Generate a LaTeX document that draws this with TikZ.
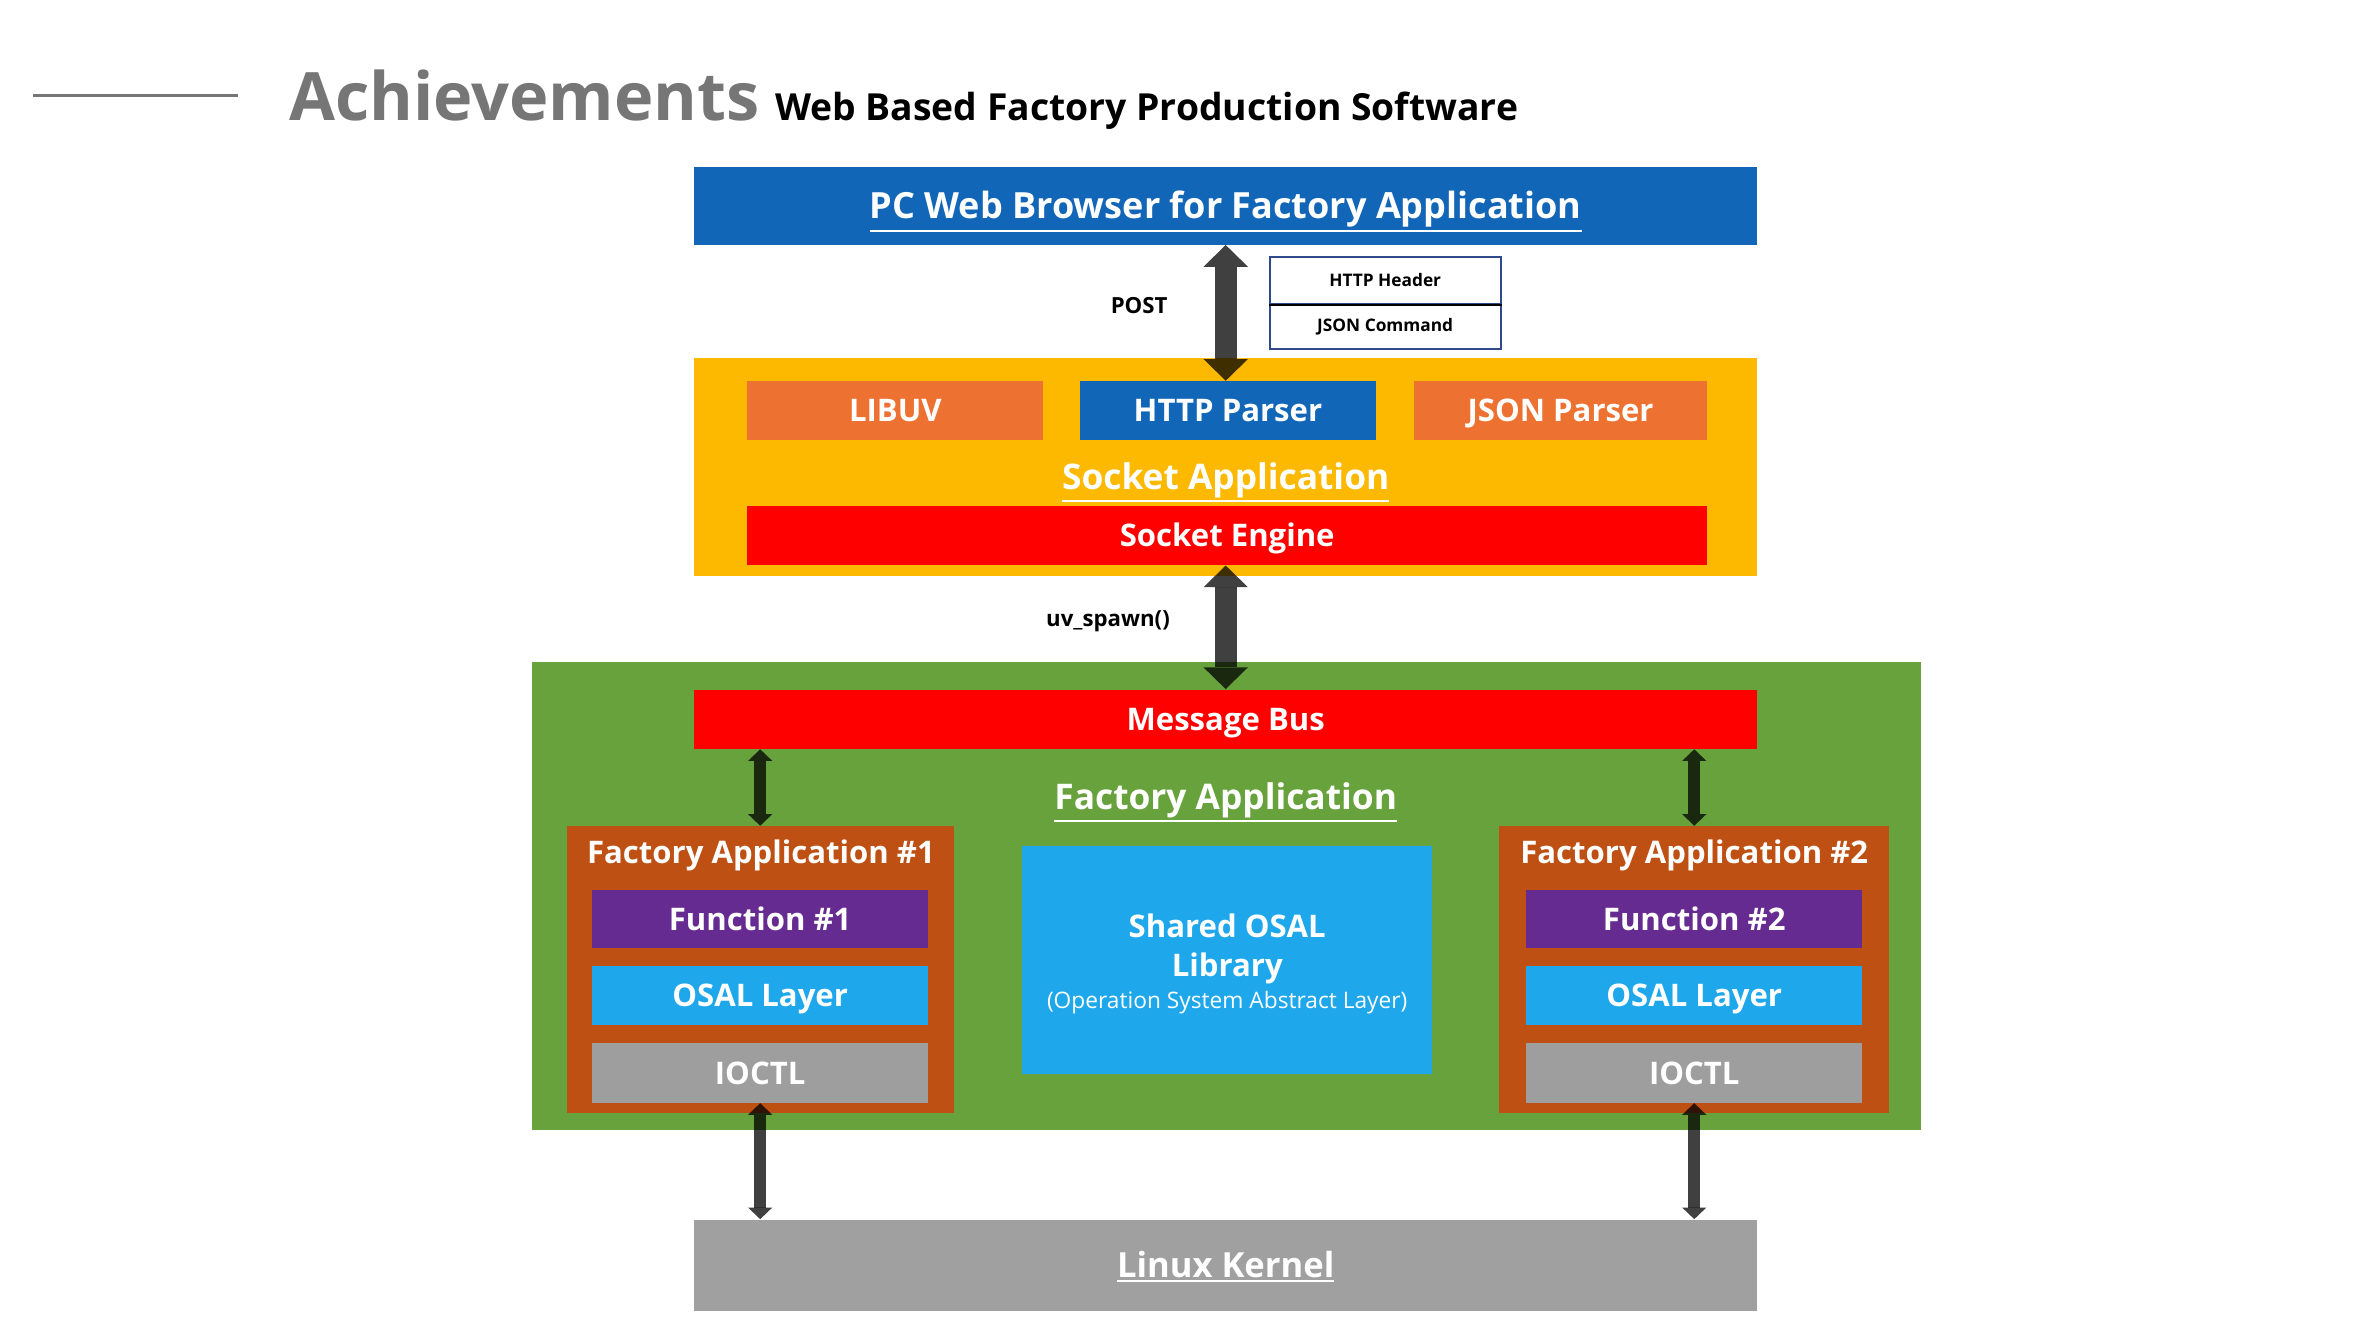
\documentclass[tikz,border=0pt]{standalone}
\usepackage{fontspec}
\setmainfont{Open Sans}
\usetikzlibrary{arrows.meta}

\newcommand\pu{0.615pt}
\newcommand\ttl[1]{\leavevmode\vtop{\hbox{#1}\kern0.9pt\hrule height 0.8pt}}

\definecolor{webblue}{RGB}{18,102,184}
\definecolor{sockyellow}{RGB}{252,185,0}
\definecolor{liborange}{RGB}{237,113,48}
\definecolor{busred}{RGB}{255,0,0}
\definecolor{factgreen}{RGB}{103,162,60}
\definecolor{appbrown}{RGB}{190,80,20}
\definecolor{funpurple}{RGB}{102,43,145}
\definecolor{osalblue}{RGB}{30,167,235}
\definecolor{ioctlgray}{RGB}{158,158,158}
\definecolor{kernelgray}{RGB}{160,160,160}
\definecolor{titlegray}{RGB}{118,118,118}
\definecolor{hdrblue}{RGB}{47,74,138}

\tikzset{
  wh/.style 2 args={minimum width=#1*\pu, minimum height=#2*\pu},
  blk/.style={rectangle, inner sep=0pt, text=white, text height=9pt, text depth=0pt,
    font=\bfseries\fontsize{12.6}{15}\selectfont},
  layer/.style={inner sep=0pt, text=white, text height=10.2pt, text depth=0pt,
    font=\bfseries\fontsize{14.3}{17}\selectfont},
  lbl/.style={inner sep=0pt, font=\bfseries\fontsize{9}{11}\selectfont},
  hdr/.style={rectangle, draw=hdrblue, line width=0.8pt, fill=white, inner sep=0pt, font=\bfseries\fontsize{7}{9}\selectfont},
  bigarrow/.style={black, opacity=0.75, line width=8.9pt,
    {Triangle[width=18pt,length=8.8pt,line width=0pt]}-{Triangle[width=18pt,length=8.8pt,line width=0pt]}},
  smallarrow/.style={black, opacity=0.75, line width=4.9pt,
    {Triangle[width=9.8pt,length=4.7pt,line width=0pt]}-{Triangle[width=9.8pt,length=4.7pt,line width=0pt]}}
}

\begin{document}
\begin{tikzpicture}[x=\pu, y=-\pu]
\useasboundingbox (0,0) rectangle (1567,881);

% heading
\draw[titlegray, line width=1.4pt] (22,63) -- (157,63);
\node[anchor=base west, inner sep=0pt, text=titlegray, font=\bfseries\fontsize{27}{32}\selectfont] (ach) at (190,79) {Achievements};
\node[anchor=base west, inner sep=0pt, font=\bfseries\fontsize{15.1}{18}\selectfont] (sub) at (510,79) {Web Based Factory Production Software};

% browser
\node[blk, wh={700}{51}, fill=webblue, text height=10.4pt, font=\bfseries\fontsize{14.6}{17}\selectfont] (web) at (807,135.5) {\ttl{PC Web Browser for Factory Application}};
\node[hdr, wh={152}{31}] (head) at (912,184.5) {HTTP Header};
\node[hdr, wh={152}{30}] (cmd) at (912,215) {JSON Command};
\draw[black, line width=0.8pt] (head.south west) -- (head.south east);
\node[lbl] (post) at (750,201) {POST};

% socket application
\node[rectangle, wh={700}{143}, fill=sockyellow] (sock) at (807,307.5) {};
\node[blk, wh={195}{39}, fill=liborange] (libuv) at (589.5,270.5) {LIBUV};
\node[blk, wh={195}{39}, fill=webblue] (http) at (808.5,270.5) {HTTP Parser};
\node[blk, wh={193}{39}, fill=liborange] (json) at (1027.5,270.5) {JSON Parser};
\node[layer] (socktitle) at (807,313.7) {\ttl{Socket Application}};
\node[blk, wh={632}{39}, fill=busred] (engine) at (808,352.5) {Socket Engine};
\node[lbl] (spawn) at (729.5,409) {uv\_spawn()};

% factory application
\node[rectangle, wh={915}{308}, fill=factgreen] (fact) at (807.5,590) {};
\node[blk, wh={700}{39}, fill=busred] (bus) at (807,473.5) {Message Bus};
\node[layer] (facttitle) at (807,524.5) {\ttl{Factory Application}};

\node[rectangle, wh={255}{189}, fill=appbrown] (app1) at (500.5,638.5) {};
\node[blk] (app1title) at (501,561.5) {Factory Application \#1};
\node[blk, wh={221}{38}, fill=funpurple] (fun1) at (500.5,605) {Function \#1};
\node[blk, wh={221}{39}, fill=osalblue] (osal1) at (500.5,655.5) {OSAL Layer};
\node[blk, wh={221}{39}, fill=ioctlgray] (ioctl1) at (500.5,706.5) {IOCTL};

\node[rectangle, wh={257}{189}, fill=appbrown] (app2) at (1115.5,638.5) {};
\node[blk] (app2title) at (1115.5,561.5) {Factory Application \#2};
\node[blk, wh={221}{38}, fill=funpurple] (fun2) at (1115.5,605) {Function \#2};
\node[blk, wh={221}{39}, fill=osalblue] (osal2) at (1115.5,655.5) {OSAL Layer};
\node[blk, wh={221}{39}, fill=ioctlgray] (ioctl2) at (1115.5,706.5) {IOCTL};

\node[rectangle, wh={270}{150}, fill=osalblue] (shared) at (808,632) {};
\node[blk, align=center, text height=, text depth=] (sharedtext) at (808,634.5)
  {Shared OSAL\\[1pt]Library\\[-2pt]{\mdseries\fontsize{9.2}{11}\selectfont (Operation System Abstract Layer)}};

% kernel
\node[blk, wh={700}{60}, fill=kernelgray, text height=10pt, font=\bfseries\fontsize{14}{17}\selectfont] (kernel) at (807,833) {\ttl{Linux Kernel}};

% connectors
\draw[bigarrow] (web.south) -- (web.south |- http.north);
\draw[bigarrow] (bus.north |- engine.south) -- (bus.north);
\draw[smallarrow] (app1.north |- bus.south) -- (app1.north);
\draw[smallarrow] (app2.north |- bus.south) -- (app2.north);
\draw[smallarrow] (ioctl1.south) -- (ioctl1.south |- kernel.north);
\draw[smallarrow] (ioctl2.south) -- (ioctl2.south |- kernel.north);
\end{tikzpicture}
\end{document}
